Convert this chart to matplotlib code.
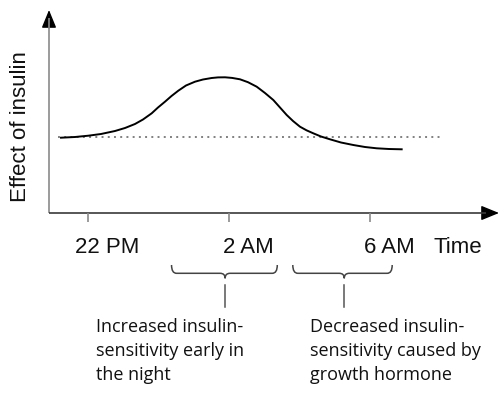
import matplotlib
matplotlib.use('Agg')
import matplotlib.pyplot as plt
from matplotlib.patches import FancyArrowPatch, PathPatch
from matplotlib.path import Path

# time in hours (22 = 22 PM, 26 = 2 AM, 30 = 6 AM), effect in arbitrary units
hours = [21.234, 21.631, 22.009, 22.369, 22.766, 23.050, 23.333, 23.560, 23.807, 23.986,
         24.184, 24.369, 24.562, 24.780, 25.035, 25.262, 25.509, 25.688, 25.887, 26.085,
         26.312, 26.539, 26.786, 27.021, 27.257, 27.447, 27.637, 27.816, 28.014, 28.199,
         28.391, 28.610, 28.865, 29.177, 29.526, 29.858, 30.190, 30.539, 30.899]
effect = [75.3, 76.0, 77.3, 79.0, 82.0, 85.0, 89.0, 93.5, 99.7, 105.5,
          111.3, 117.0, 122.3, 127.5, 131.3, 133.5, 135.0, 135.6, 135.7, 135.1,
          133.7, 130.8, 126.3, 120.0, 113.0, 105.5, 98.0, 92.0, 86.3, 82.7,
          79.7, 76.5, 73.7, 70.5, 68.0, 66.0, 64.7, 64.0, 63.7]
baseline_effect = 76.3
baseline_span = [21.15, 32.01]

tick_hours = [22, 26, 30]
tick_labels = ['22 PM', '2 AM', '6 AM']

# (start, end, brace tip) for the two phases
phase_spans = [(24.37, 27.37, 25.89), (27.81, 30.63, 29.27)]
phase_text_x = [22.23, 28.30]
phase_texts = [['Increased insulin-', 'sensitivity early in', 'the night'],
               ['Decreased insulin-', 'sensitivity caused by', 'growth hormone']]

PX = 1 / 35.25  # hours per pixel

fig = plt.figure(figsize=(4.99, 3.94), dpi=100)
ax = fig.add_axes([0, 0, 1, 1])
ax.set_xlim(19.5035, 33.66)
ax.set_ylim(-181, 213)
ax.axis('off')

x_axis0 = 22 - 39 * PX
# axes lines
ax.plot([x_axis0, x_axis0], [0, 195], color='#8a8a8a', lw=1.2, solid_capstyle='butt')
ax.plot([x_axis0, 33.3], [0, 0], color='#3a3a3a', lw=1.2, solid_capstyle='butt')
for a, b in [((x_axis0, 185), (x_axis0, 203)), ((33.2, 0), (33.66, 0))]:
    ax.add_patch(FancyArrowPatch(a, b, arrowstyle='-|>,head_length=1.1,head_width=0.45',
                                 mutation_scale=10, color='black', lw=1, shrinkA=0, shrinkB=0))

ax.vlines(tick_hours, -9, 0, color='#8a8a8a', lw=1.2)
for h, lab in zip(tick_hours, tick_labels):
    ax.text(h + 19 * PX, -40, lab, ha='center', va='baseline', fontsize=16,
            family='Liberation Sans', color='#111111')
ax.text(22 + 370 * PX, -40, 'Time', ha='center', va='baseline', fontsize=16,
        family='Liberation Sans', color='#111111')

ax.text(22 - 62 * PX, 86.5, 'Effect of insulin', rotation=90, rotation_mode='anchor',
        ha='center', va='baseline', fontsize=16, family='Liberation Sans', color='#111111')

# reference level and curve
ax.plot(baseline_span, [baseline_effect, baseline_effect], color='#808080', lw=1.4,
        dashes=(1, 2.2))
ax.plot(hours, effect, color='black', lw=1.4, solid_joinstyle='round')

# braces
v_hook, v_line, v_tip = -52, -60.3, -65.3
r = 5 * PX
for (x0, x1, xm), tx, lines in zip(phase_spans, phase_text_x, phase_texts):
    verts = [(x0, v_hook), (x0, v_line), (x0 + r, v_line),
             (xm - r, v_line), (xm, v_line), (xm, v_tip),
             (xm, v_line), (xm + r, v_line),
             (x1 - r, v_line), (x1, v_line), (x1, v_hook)]
    codes = [Path.MOVETO, Path.CURVE3, Path.CURVE3,
             Path.LINETO, Path.CURVE3, Path.CURVE3,
             Path.CURVE3, Path.CURVE3,
             Path.LINETO, Path.CURVE3, Path.CURVE3]
    ax.add_patch(PathPatch(Path(verts, codes), fill=False, edgecolor='#444444', lw=1.1))
    ax.plot([xm, xm], [-72, -93.7], color='#555555', lw=1.1)
    for i, line in enumerate(lines):
        ax.text(tx, -119 - 24 * i, line, ha='left', va='baseline', fontsize=13,
                family='Open Sans', color='#111111')

fig.savefig('out.png', dpi=100)
